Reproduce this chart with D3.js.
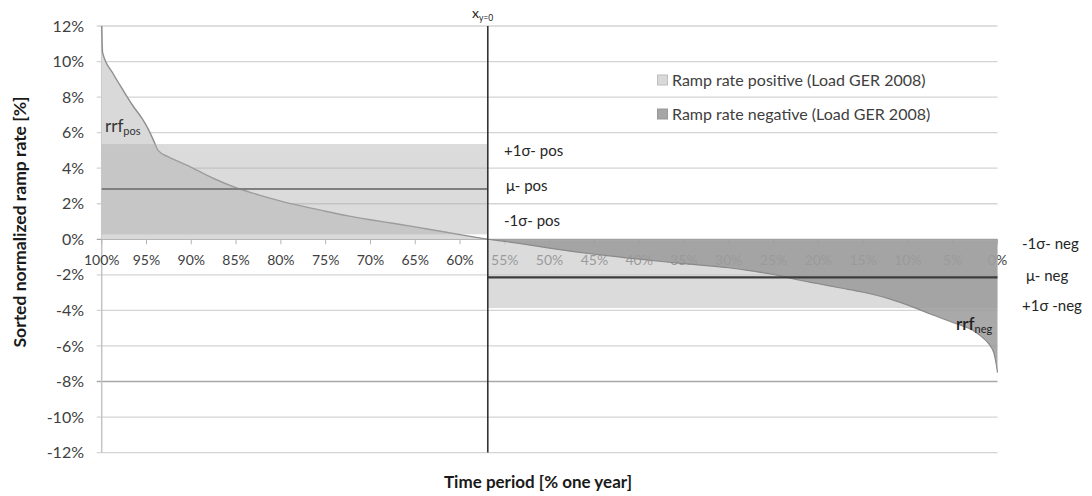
<!DOCTYPE html>
<html>
<head>
<meta charset="utf-8">
<script src="https://cdn.jsdelivr.net/npm/d3@7"></script>
<style>
  html, body { margin: 0; padding: 0; background: #fff; }
  svg { display: block; font-family: Lato, "Open Sans", sans-serif; }
</style>
</head>
<body>
<svg id="chart" width="1092" height="496"></svg>
<script>
// ---- data ----
const posX = [100, 99.9, 98.7, 97.5, 96.5, 95.5, 94.8, 94.2, 93.7, 92.5, 91.0, 90.0, 87.5, 85.0, 82.5, 80.0, 77.5, 75.0, 72.5, 70.0, 67.5, 65.0, 62.5, 60.0, 56.9];
const posY = [12.0, 10.5, 9.3, 8.3, 7.5, 6.8, 6.2, 5.55, 5.0, 4.62, 4.28, 4.05, 3.42, 2.9, 2.5, 2.15, 1.85, 1.58, 1.32, 1.1, 0.9, 0.7, 0.48, 0.26, 0.0];
const negX = [56.9, 55, 52.5, 50, 47.5, 45, 42.5, 40, 37.5, 35, 32.5, 30, 27.5, 25, 22.5, 20, 17.5, 15, 12.5, 10, 7.5, 5, 2.5, 1.5, 0.8, 0.4, 0.15, 0];
const negY = [0, -0.12, -0.3, -0.5, -0.68, -0.84, -0.98, -1.12, -1.25, -1.37, -1.48, -1.6, -1.78, -1.98, -2.26, -2.5, -2.74, -2.98, -3.28, -3.7, -4.2, -4.68, -5.2, -5.6, -6.0, -6.4, -7.0, -7.5];
const posStats = { minus: 0.28, mean: 2.83, plus: 5.36 };
const negStats = { minus: -0.08, mean: -2.14, plus: -3.87 };
const xZero = 56.9;
const yTicks = [-12, -10, -8, -6, -4, -2, 0, 2, 4, 6, 8, 10, 12];
const xTicks = [100, 95, 90, 85, 80, 75, 70, 65, 60, 55, 50, 45, 40, 35, 30, 25, 20, 15, 10, 5, 0];
const legendLabels = ["Ramp rate positive (Load GER 2008)", "Ramp rate negative (Load GER 2008)"];

// ---- scales ----
const svg = d3.select("#chart");
const x = d3.scaleLinear().domain([100, 0]).range([101.7, 997.5]);
const y = d3.scaleLinear().domain([-12, 12]).range([452.6, 26]);
const pos = posX.map((v, i) => ({ x: v, y: posY[i] }));
const neg = negX.map((v, i) => ({ x: v, y: negY[i] }));

// ---- gridlines ----
svg.append("g").selectAll("line").data(yTicks.filter(d => d !== 0)).join("line")
  .attr("x1", x(100) - 5).attr("x2", x(0))
  .attr("y1", d => y(d)).attr("y2", d => y(d))
  .attr("stroke", d => d === -8 ? "#a8a8a8" : "#d4d4d4").attr("stroke-width", 1.3);

// y axis line
svg.append("line").attr("x1", x(100)).attr("x2", x(100)).attr("y1", y(12)).attr("y2", y(-12))
  .attr("stroke", "#c4c4c4").attr("stroke-width", 1.5);
// x axis line at 0
svg.append("line").attr("x1", x(100) - 5).attr("x2", x(0)).attr("y1", y(0)).attr("y2", y(0))
  .attr("stroke", "#a8a8a8").attr("stroke-width", 1.3);
svg.append("g").selectAll("line").data(xTicks).join("line")
  .attr("x1", d => x(d)).attr("x2", d => x(d)).attr("y1", y(0)).attr("y2", y(0) + 5)
  .attr("stroke", "#b4b4b4").attr("stroke-width", 1);

// y tick labels
svg.append("g").selectAll("text").data(yTicks).join("text")
  .attr("x", 84).attr("y", d => y(d)).attr("dy", "0.35em")
  .attr("text-anchor", "end").attr("font-size", 16).attr("fill", "#404040")
  .text(d => d + "%");
// x tick labels
svg.append("g").selectAll("text").data(xTicks).join("text")
  .attr("x", d => x(d)).attr("y", 265)
  .attr("text-anchor", "middle").attr("font-size", 14).attr("fill", "#404040")
  .text(d => d + "%");

// ---- positive region ----
const area = d3.area().curve(d3.curveMonotoneX).x(d => x(d.x)).y0(y(0)).y1(d => y(d.y));
const line = d3.line().curve(d3.curveMonotoneX).x(d => x(d.x)).y(d => y(d.y));
svg.append("path").datum(pos).attr("d", area).attr("fill", "#d9d9d9");
svg.append("path").datum(pos).attr("d", line).attr("fill", "none")
  .attr("stroke", "#8e8e8e").attr("stroke-width", 1.4);
svg.append("rect")
  .attr("x", x(100)).attr("width", x(xZero) - x(100))
  .attr("y", y(posStats.plus)).attr("height", y(posStats.minus) - y(posStats.plus))
  .attr("fill", "#afafaf").attr("fill-opacity", 0.45);
svg.append("line").attr("x1", x(100)).attr("x2", x(xZero))
  .attr("y1", y(posStats.mean)).attr("y2", y(posStats.mean))
  .attr("stroke", "#7f7f7f").attr("stroke-width", 2);

// ---- negative region ----
svg.append("rect")
  .attr("x", x(xZero)).attr("width", x(0) - x(xZero))
  .attr("y", y(negStats.minus)).attr("height", y(negStats.plus) - y(negStats.minus))
  .attr("fill", "#c9c9c9").attr("fill-opacity", 0.66);
svg.append("path").datum(neg).attr("d", area).attr("fill", "#9a9a9a").attr("fill-opacity", 0.85);
svg.append("path").datum(neg).attr("d", line).attr("fill", "none")
  .attr("stroke", "#8a8a8a").attr("stroke-width", 1.2);
svg.append("line").attr("x1", x(xZero)).attr("x2", x(0))
  .attr("y1", y(negStats.mean)).attr("y2", y(negStats.mean))
  .attr("stroke", "#3c3c3c").attr("stroke-width", 2.2);

// vertical x(y=0) line
svg.append("line").attr("x1", x(xZero)).attr("x2", x(xZero)).attr("y1", y(12)).attr("y2", y(-12))
  .attr("stroke", "#333").attr("stroke-width", 1.6);

// ---- legend ----
const legend = svg.append("g");
const legFill = ["#d9d9d9", "#a6a6a6"];
const legStroke = ["#bdbdbd", "#999"];
legendLabels.forEach((t, i) => {
  legend.append("rect").attr("x", 657.5).attr("y", 75 + i * 34).attr("width", 10).attr("height", 10)
    .attr("fill", legFill[i]).attr("stroke", legStroke[i]).attr("stroke-width", 1);
  legend.append("text").attr("x", 672).attr("y", 86 + i * 34)
    .attr("font-size", 16).attr("fill", "#404040").text(t);
});

// ---- annotations ----
const ann = [
  { t: "+1σ- pos", x: 504, y: 156 },
  { t: "μ- pos", x: 506, y: 191 },
  { t: "-1σ- pos", x: 504, y: 226 },
  { t: "-1σ- neg", x: 1022, y: 249 },
  { t: "μ- neg", x: 1026, y: 281 },
  { t: "+1σ -neg", x: 1022, y: 311 }
];
svg.append("g").selectAll("text").data(ann).join("text")
  .attr("x", d => d.x).attr("y", d => d.y)
  .attr("font-size", 15).attr("fill", "#262626").text(d => d.t);

const rp = svg.append("text").attr("x", 105).attr("y", 132).attr("font-size", 17).attr("fill", "#333");
rp.append("tspan").text("rrf");
rp.append("tspan").attr("font-size", 11).attr("dy", 3).text("pos");

const rn = svg.append("text").attr("x", 956).attr("y", 330).attr("font-size", 17).attr("fill", "#222").attr("font-weight", 600);
rn.append("tspan").text("rrf");
rn.append("tspan").attr("font-size", 11).attr("font-weight", 400).attr("dy", 3).text("neg");

const xl = svg.append("text").attr("x", 472).attr("y", 18).attr("font-size", 14).attr("fill", "#222");
xl.append("tspan").text("x");
xl.append("tspan").attr("font-size", 8.5).attr("dy", 3).text("y=0");

// ---- axis titles ----
svg.append("text").attr("transform", "translate(19,222) rotate(-90)")
  .attr("text-anchor", "middle").attr("dominant-baseline", "central")
  .attr("font-size", 17.5).attr("font-weight", 700).attr("fill", "#1a1a1a")
  .text("Sorted normalized ramp rate  [%]");
svg.append("text").attr("x", 538).attr("y", 488).attr("text-anchor", "middle")
  .attr("font-size", 17).attr("font-weight", 700).attr("fill", "#1a1a1a")
  .text("Time period [% one year]");
</script>
</body>
</html>
